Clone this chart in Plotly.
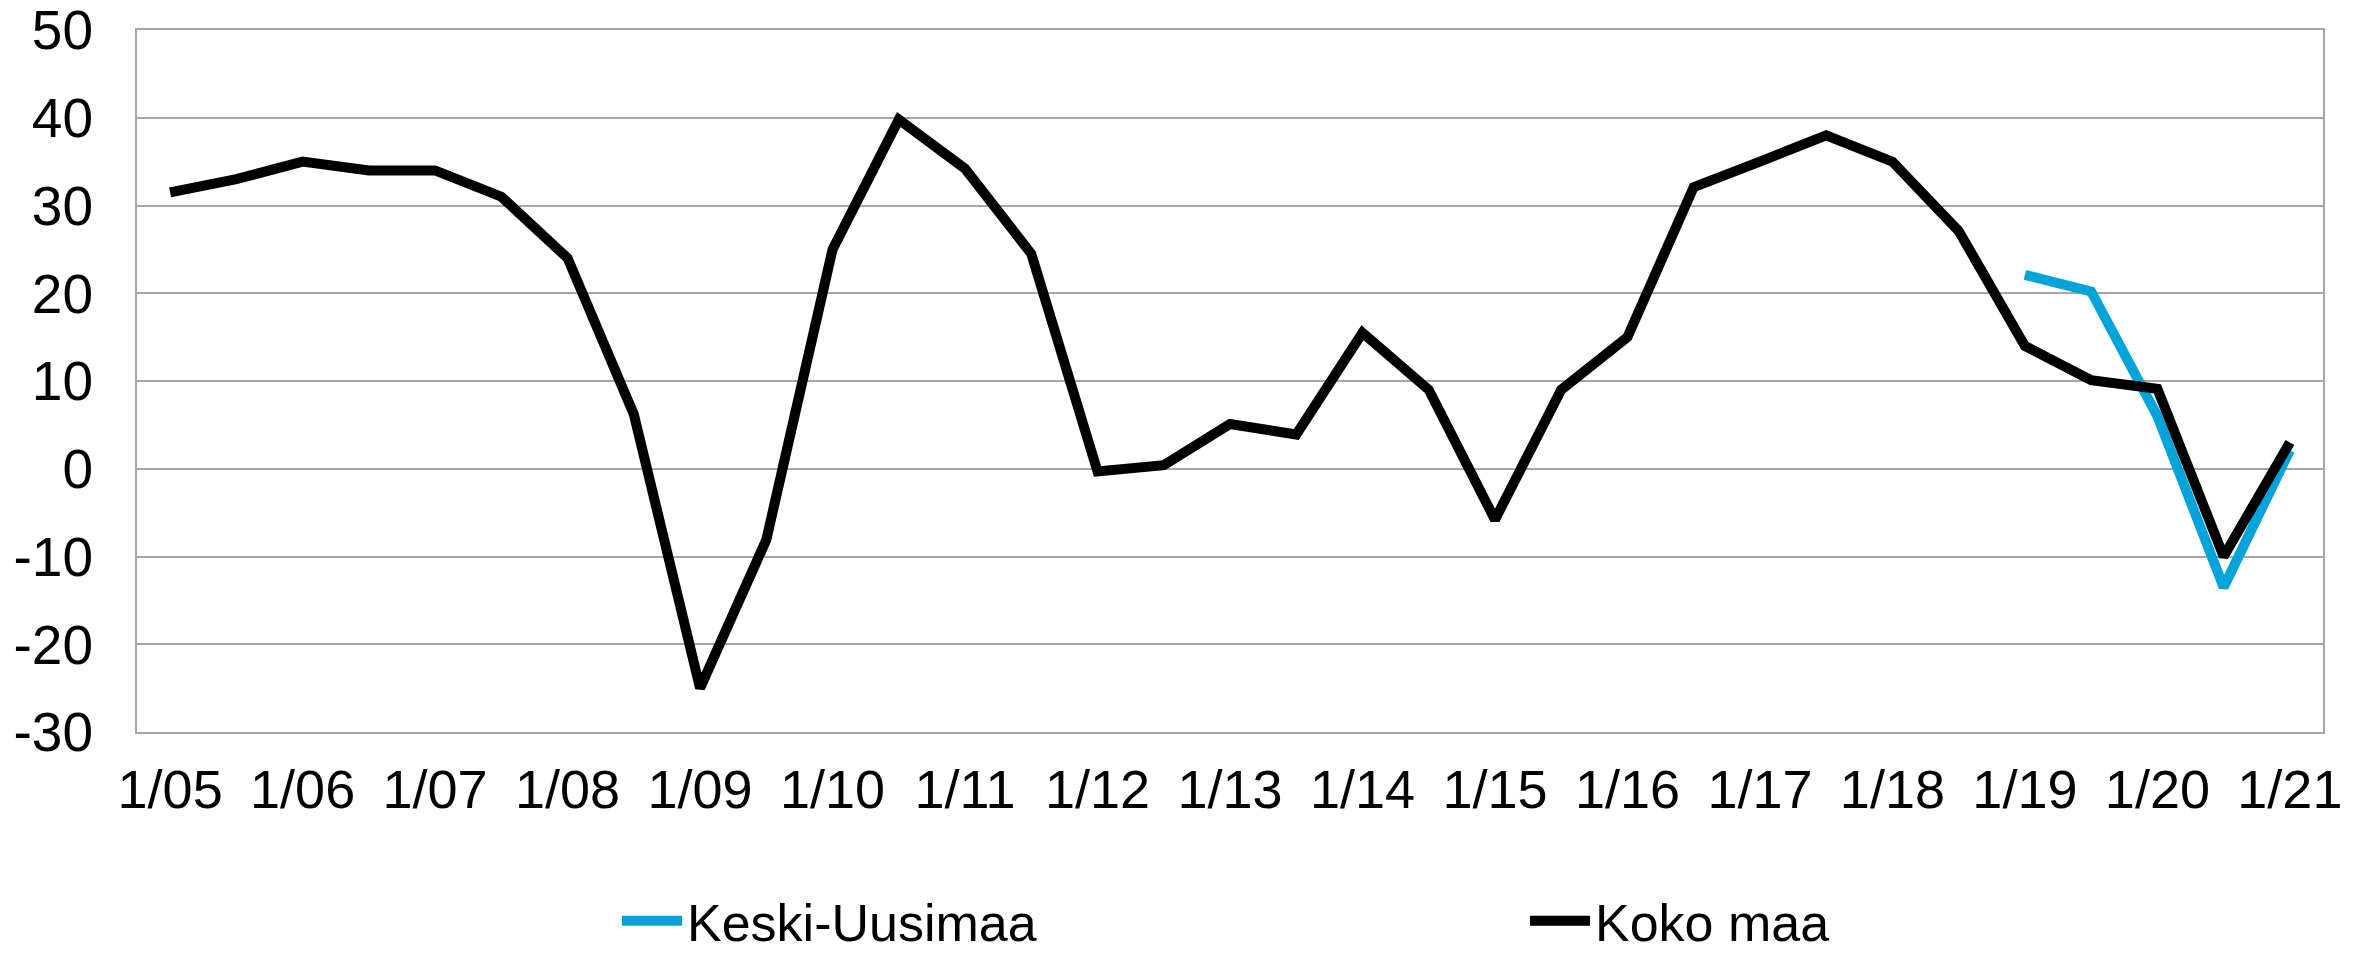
import plotly.graph_objects as go

categories = [f"{m}/{y:02d}" for y in range(5, 21) for m in (1, 7)] + ["1/21"]
tick_labels = [f"1/{y:02d}" for y in range(5, 22)]
y_ticks = [-30, -20, -10, 0, 10, 20, 30, 40, 50]
y_tick_labels = [str(v) for v in y_ticks]

koko_maa = [31.5, 33, 35, 34, 34, 31, 24, 6.2, -25, -8.1,
            25, 39.8, 34.2, 24.5, -0.3, 0.4, 5.1, 3.9, 15.5, 9.0,
            -5.8, 9.0, 15.0, 32.1, 35.0, 38.0, 35.0, 27.1, 14.0, 10.1,
            9.1, -10.0, 3.0]
keski_uusimaa = [None] * 28 + [22.1, 20.2, 6.0, -13.5, 2.1]

FONT = "Liberation Sans, Arial, sans-serif"
GRID = "#A6A6A6"

fig = go.Figure()
fig.add_trace(go.Scatter(x=categories, y=keski_uusimaa, name="Keski-Uusimaa",
                         mode="lines", line=dict(color="#00A3DA", width=10),
                         connectgaps=False, legend="legend"))
fig.add_trace(go.Scatter(x=categories, y=koko_maa, name="Koko maa",
                         mode="lines", line=dict(color="#000000", width=10),
                         legend="legend2"))

legend_common = dict(orientation="h", xanchor="left", yref="container",
                     y=1 - 921 / 954, yanchor="middle",
                     font=dict(size=52), itemwidth=60, bgcolor="rgba(0,0,0,0)")

fig.update_layout(
    width=2363, height=954,
    margin=dict(l=137, r=40, t=30, b=222, autoexpand=False),
    paper_bgcolor="white", plot_bgcolor="white",
    font=dict(family=FONT, size=52, color="black"),
    showlegend=True,
    legend=dict(x=(617 - 137) / 2186, **legend_common),
    legend2=dict(x=(1525 - 137) / 2186, **legend_common),
)
fig.update_xaxes(type="category", categoryorder="array", categoryarray=categories,
                 range=[-0.5, len(categories) - 0.5],
                 tickmode="array", tickvals=tick_labels, ticktext=tick_labels,
                 showgrid=False, showline=True, linecolor=GRID, linewidth=2,
                 mirror=True, ticks="", ticklabelstandoff=9, automargin=False,
                 ticklabeloverflow="allow",
                 tickfont=dict(size=54), zeroline=False, fixedrange=True)
fig.update_yaxes(range=[-30, 50], tickmode="array", tickvals=y_ticks,
                 ticktext=y_tick_labels,
                 showgrid=True, gridcolor=GRID, gridwidth=2,
                 showline=True, linecolor=GRID, linewidth=2, mirror=True,
                 ticks="", ticklabelstandoff=31, automargin=False,
                 ticklabeloverflow="allow",
                 tickfont=dict(size=55), zeroline=False, fixedrange=True)

fig.write_html("out.html", config={"displayModeBar": False},
               post_script="document.body.style.margin='0';")
